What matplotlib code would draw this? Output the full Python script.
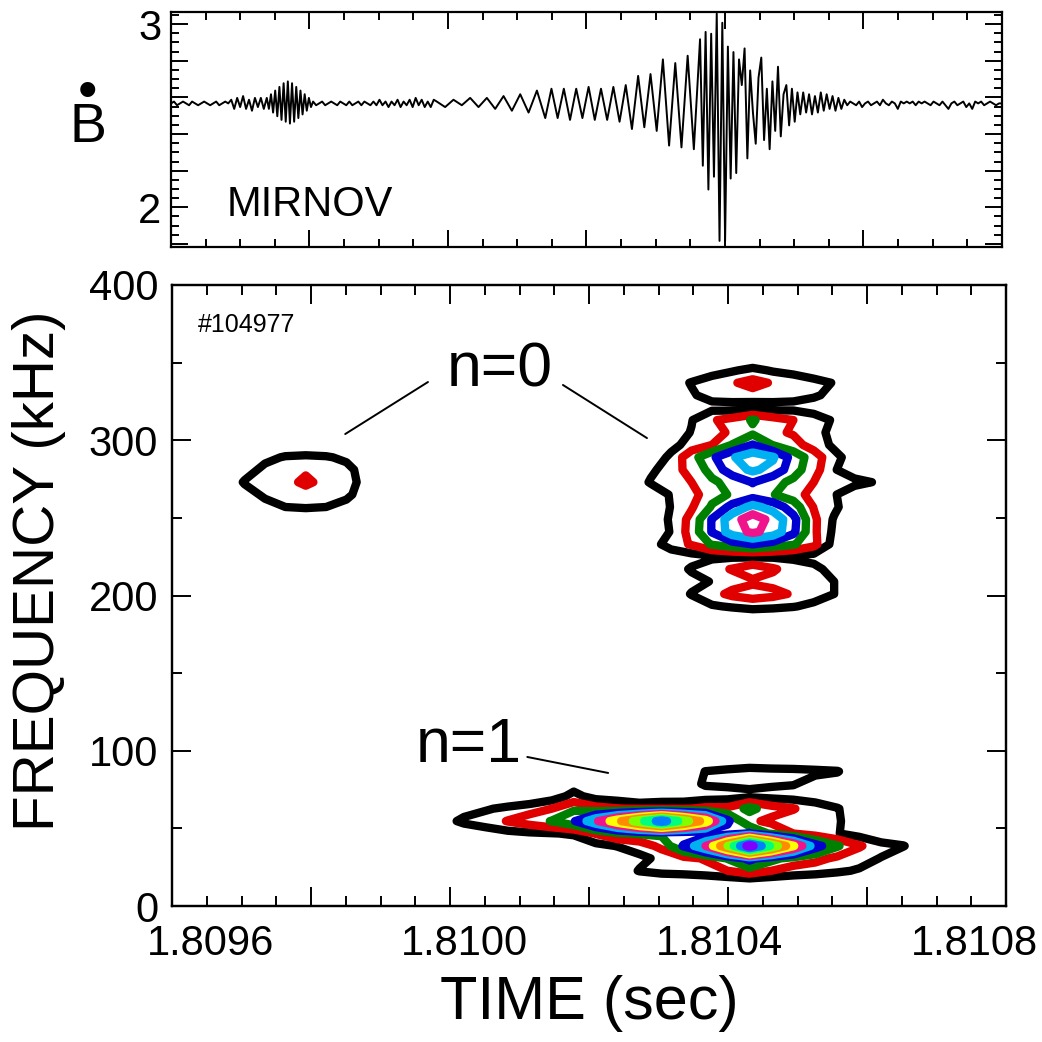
import numpy as np
import matplotlib
matplotlib.use("Agg")
import matplotlib.pyplot as plt
from matplotlib.ticker import MultipleLocator, FixedLocator, FuncFormatter, NullFormatter

# ---------------- Mirnov trace (top panel) ----------------
# baseline of the coil signal and per-segment samples (deviation, units of 0.01)
mirnov_base = 2.567
mirnov_edges = [1.80954, 1.809635, 1.809691, 1.809764, 1.809959, 1.81013,
                1.810374, 1.810532, 1.810606, 1.81085]
mirnov_vals = [
    [0, 1, -1, 0, 1, 0, -1, 1, 0, -1, 0, 1, 0, -1, 0, 1, -1, 0, 1, 0],
    [2, -3, 3, -2, 4, -3, 2, -4, 3, -2, 3, -3],
    [3, -3, 5, -5, 7, -7, 9, -9, 11, -10, 12, -11, 11, -10, 9, -8, 7, -6, 5, -4, 3, -2],
    [1, -1, 0, 1, -1, 0, 1, 0, -1, 1, 0, -1, 1, -1, 0, 1, -1, 1, 0, -1, 1,
     -1, 2, -1, 1, -2, 1, -1, 2, -2, 1, -1, 2, -2, 3, -1, 2, -2, 1, -2, 2],
    [1, -2, 2, -1, 3, -2, 3, -3, 4, -4, 5, -5, 7],
    [-8, 8, -8, 8, -9, 8, -8, 9, -9, 8, -9, 9, -10, 10,
     -14, 15, -13, 16, -15, 24, -23, 22, -24, 26, -25],
    [35, -34, 39, -47, 38, -40, 49, -75, 44, -75, 31, -41, 28, -38, 24, 10, 30, -30,
     18, -5, -22, 14, 25, -20, 8, -25, 12, -15, 20, -18, 5, 10, -12, 8, -10, 6],
    [-6, 6, -5, 5, -6, 4, -5, 6, -4, 5, -3, 4, -4, 3, -3, 2],
    [-1, 1, 0, -1, 1, -2, 0, 1, -1, 0, 1, -1, 2, 0, -1, 1, 0, -3, 1, 0, 1, 0, 1, -1, 1, 0,
     1, 0, -1, 1, 0, -1, 1, -1, -3, 0, 1, -1, 0, 1, -2, 0, -3, 1, 0, 1, -1, 0, 1, 0, -1, 0],
]

# ---------------- spectrogram power (bottom panel) ----------------
contour_levels = [1, 2, 3, 4, 5, 6, 7, 8, 9, 10, 11, 12]
level_colors = ['black', '#e00000', '#008000', '#0000d0', '#00b0f0', '#f0148c',
                '#ffff00', '#ff8c00', '#80ff00', '#00ff80', '#0080ff', '#8000ff']

# n=0 burst near 1.8098 s
n0a_t0, n0a_dt = 1.809622, 3.2e-5
n0a_freq = [249, 257, 265, 273, 281, 289, 297]
n0a_power = [
    [0, 0, 0, 0, 0, 0, 0, 0, 0],
    [0, 0, 0.6, 1.0, 1.1, 1.0, 0.7, 0, 0],
    [0, 0.5, 1.2, 1.5, 1.7, 1.5, 1.2, 0.5, 0],
    [0, 1.1, 1.5, 1.8, 2.12, 1.8, 1.3, 0.7, 0],
    [0, 0.5, 1.3, 1.6, 1.9, 1.6, 1.3, 0.5, 0],
    [0, 0, 0.7, 1.1, 1.2, 1.1, 0.8, 0, 0],
    [0, 0, 0, 0, 0, 0, 0, 0, 0],
]

# n=0 burst near 1.8104 s
n0b_t0, n0b_dt = 1.81026, 3.2e-5
n0b_freq = [177, 185, 193, 201, 209, 217, 225, 233, 241, 249, 257, 265,
            273, 281, 289, 297, 305, 313, 321, 329, 337, 345, 353]
n0b_power = [
    [0, 0, 0, 0, 0, 0, 0, 0, 0, 0, 0, 0, 0, 0],
    [0, 0, 0, 0, 0, 0, 0, 0, 0, 0, 0, 0, 0, 0],
    [0, 0, 0, 0.5, 0.9, 1.1, 1.3, 1.2, 1.05, 0.8, 0.3, 0, 0, 0],
    [0, 0, 0.4, 1.05, 1.7, 2.2, 2.45, 2.25, 1.9, 1.4, 1.0, 0.2, 0, 0],
    [0, 0, 0, 0.7, 1.05, 1.6, 1.85, 1.7, 1.5, 1.3, 1.0, 0.3, 0, 0],
    [0, 0, 0.5, 1.1, 1.7, 2.05, 2.6, 2.1, 1.6, 1.3, 0.6, 0, 0, 0],
    [0, 0, 0.3, 0.6, 0.8, 0.9, 0.9, 0.9, 0.8, 0.6, 0.3, 0, 0, 0],
    [0, 0.5, 1.5, 2.1, 3.1, 3.6, 4.02, 3.6, 3.1, 2.3, 0.6, 0, 0, 0],
    [0, 0, 1.1, 2.4, 4.05, 5.5, 6.2, 5.6, 4.2, 2.2, 0.8, 0, 0, 0],
    [0, 0, 1.2, 2.3, 4.05, 5.6, 6.5, 5.7, 4.3, 2.2, 0.9, 0, 0, 0],
    [0, 0.2, 1.05, 1.9, 3.1, 4.3, 5.3, 4.6, 3.5, 1.95, 1.2, 0.3, 0, 0],
    [0, 0.3, 1.1, 1.6, 2.7, 3.1, 3.5, 3.05, 2.5, 1.6, 1.1, 0.3, 0, 0],
    [0.2, 1.1, 1.4, 2.0, 2.85, 3.3, 4.05, 3.3, 2.8, 2.0, 1.5, 1.3, 0.95, 0],
    [0, 0.8, 1.5, 2.4, 3.3, 4.6, 5.15, 4.7, 3.4, 2.4, 1.1, 0.3, 0, 0],
    [0, 0.1, 1.3, 2.6, 3.8, 4.9, 5.6, 5.1, 3.6, 2.5, 1.3, 0.5, 0, 0],
    [0, 0, 0.6, 1.5, 2.0, 3.05, 4.05, 2.95, 2.35, 1.6, 0.8, 0, 0, 0],
    [0, 0, 0.5, 1.05, 1.8, 2.1, 2.8, 2.2, 1.9, 1.4, 0.7, 0, 0, 0],
    [0, 0, 0.5, 0.95, 1.9, 2.3, 3.1, 2.4, 2.0, 1.4, 0.9, 0, 0, 0],
    [0, 0, 0.2, 0.5, 0.7, 0.6, 0.5, 0.6, 0.7, 0.6, 0.5, 0, 0, 0],
    [0, 0, 0.4, 0.9, 1.3, 1.5, 1.6, 1.5, 1.3, 1.1, 0.8, 0, 0, 0],
    [0, 0, 0.6, 1.05, 1.5, 1.9, 2.3, 1.9, 1.6, 1.3, 0.95, 0, 0, 0],
    [0, 0, 0, 0.3, 0.6, 0.9, 1.25, 0.9, 0.7, 0.4, 0, 0, 0, 0],
    [0, 0, 0, 0, 0, 0, 0, 0, 0, 0, 0, 0, 0, 0],
]

# n=1 mode
n1_t0, n1_dt = 1.809964, 3.45e-5
n1_freq = [6.7, 14.7, 22.7, 30.7, 38.7, 46.7, 54.7, 62.7, 70.7, 78.7, 86.7, 94.7, 102.7]
n1_power = [
    [0] * 23,
    [0] * 23,
    [0, 0, 0, 0, 0, 0, 0, 0, 0.5, 1.05, 1.3, 1.4, 1.6, 2.0, 2.6, 2.0, 1.6, 1.4, 1.15, 0.9, 0.2, 0, 0],
    [0, 0, 0, 0, 0, 0, 0, 0, 0.3, 0.8, 1.2, 1.7, 2.1, 3.05, 4.3, 3.3, 2.6, 2.3, 1.8, 1.4, 0.95, 0.3, 0],
    [0, 0, 0, 0, 0, 0.2, 0.4, 0.7, 1.05, 1.4, 2.3, 4.1, 6.0, 9.0, 12.5, 9.8, 7.1, 4.4, 3.1, 2.1, 1.4, 1.05, 0.3],
    [0, 0.2, 0.5, 0.7, 0.85, 0.95, 1.1, 2.05, 2.8, 3.1, 3.2, 3.2, 3.3, 3.5, 4.1, 2.8, 2.0, 1.5, 1.05, 0.6, 0, 0, 0],
    [0.6, 1.2, 1.5, 2.05, 2.5, 3.05, 3.9, 5.8, 7.7, 9.6, 11.5, 9.5, 7.5, 4.2, 2.2, 1.8, 1.5, 1.4, 1.1, 0.5, 0, 0, 0],
    [0, 0.6, 0.9, 1.2, 1.6, 2.0, 2.81, 2.3, 2.05, 1.9, 1.85, 1.9, 2.2, 2.2, 3.3, 2.4, 2.05, 1.5, 1.05, 0.5, 0, 0, 0],
    [0, 0, 0, 0, 0, 0.5, 1.3, 0.6, 0.4, 0, 0.3, 0.3, 0.5, 0.6, 0.8, 0.7, 0.6, 0.5, 0.4, 0, 0, 0, 0],
    [0, 0, 0, 0, 0, 0, 0.5, 0.3, 0.2, 0.3, 0.4, 0.6, 1.1, 1.15, 1.15, 1.1, 1.05, 0.7, 0.5, 0.2, 0, 0, 0],
    [0, 0, 0, 0, 0, 0, 0, 0, 0, 0, 0, 0.5, 1.02, 1.2, 1.4, 1.3, 1.25, 1.15, 1.05, 0.4, 0, 0, 0],
    [0] * 23,
    [0] * 23,
]

time_ticks = [1.8096, 1.8100, 1.8104, 1.8108]
time_labels = ['1.8096', '1.8100', '1.8104', '1.8108']
xlim = (1.80954, 1.81085)


def draw_power(ax, t0, dt, freq, power):
    z = np.array(power)
    t = t0 + dt * np.arange(z.shape[1])
    ax.contour(t, freq, z, levels=contour_levels, colors=level_colors, linewidths=6)


def main():
    plt.rcParams['font.family'] = ['Liberation Sans', 'DejaVu Sans']

    fig = plt.figure(figsize=(10.42, 10.42), dpi=100)
    ax_m = fig.add_axes([0.1641, 0.7632, 0.7975, 0.2250])
    ax = fig.add_axes([0.1651, 0.1305, 0.8004, 0.5960])

    # top: Mirnov signal
    t_all, y_all = [], []
    for t0, t1, vals in zip(mirnov_edges[:-1], mirnov_edges[1:], mirnov_vals):
        tt = np.linspace(t0, t1, len(vals), endpoint=False)
        t_all.extend(tt)
        y_all.extend(mirnov_base + np.array(vals) / 100.0)
    t_all.append(mirnov_edges[-1])
    y_all.append(mirnov_base)
    ax_m.plot(t_all, y_all, color='black', lw=1.4)
    ax_m.set_xlim(*xlim)
    ax_m.set_ylim(1.785, 3.064)
    ax_m.yaxis.set_major_locator(MultipleLocator(0.2))
    ax_m.yaxis.set_minor_locator(MultipleLocator(0.05))
    ax_m.yaxis.set_major_formatter(FuncFormatter(
        lambda v, p: f"{v:.0f}" if abs(v - round(v)) < 1e-6 else ""))
    ax_m.xaxis.set_major_locator(FixedLocator(np.linspace(xlim[0], xlim[1], 7)))
    ax_m.xaxis.set_minor_locator(FixedLocator(np.linspace(xlim[0], xlim[1], 25)))
    ax_m.xaxis.set_major_formatter(NullFormatter())
    ax_m.tick_params(which='both', direction='in', top=True, right=True, width=1.4)
    ax_m.tick_params(which='major', length=12, labelsize=30, pad=7)
    ax_m.tick_params(which='minor', length=6)
    ax_m.text(0.067, 0.18, 'MIRNOV', transform=ax_m.transAxes, fontsize=30,
              ha='left', va='center')
    # B-dot label (dot stacked over the B in one text)
    fig.text(88 / 1042, 1 - 142 / 1042, '\u2022\nB', fontsize=40, ha='center',
             va='baseline', multialignment='center', linespacing=0.56)

    # bottom: contour spectrogram
    draw_power(ax, n0a_t0, n0a_dt, n0a_freq, n0a_power)
    draw_power(ax, n0b_t0, n0b_dt, n0b_freq, n0b_power)
    draw_power(ax, n1_t0, n1_dt, n1_freq, n1_power)
    ax.set_xlim(*xlim)
    ax.set_ylim(0, 400)
    ax.set_xticks(time_ticks)
    ax.set_xticklabels(time_labels, fontsize=30)
    ax.tick_params(axis='x', length=0, pad=13)
    ax.yaxis.set_major_locator(MultipleLocator(100))
    ax.yaxis.set_minor_locator(MultipleLocator(50))
    ax.tick_params(axis='y', which='both', direction='in', right=True, width=1.4)
    ax.tick_params(axis='y', which='major', length=14, labelsize=30, pad=10)
    ax.tick_params(axis='y', which='minor', length=7)

    axt = ax.twiny()
    axt.set_xlim(0, 24)
    axt.xaxis.set_major_locator(MultipleLocator(4))
    axt.xaxis.set_minor_locator(MultipleLocator(1))
    axt.tick_params(axis='x', which='both', direction='in', top=True, bottom=True,
                    labeltop=False, labelbottom=False, width=1.4)
    axt.tick_params(axis='x', which='major', length=14)
    axt.tick_params(axis='x', which='minor', length=7)

    for a in (ax, ax_m, axt):
        for s in a.spines.values():
            s.set_linewidth(1.6)

    ax.set_xlabel('TIME (sec)', fontsize=44, labelpad=8)
    ax.set_ylabel('FREQUENCY (kHz)', fontsize=42)
    ax.yaxis.set_label_coords(-0.127, 0.54)

    ax.text(0.031, 0.936, '#104977', transform=ax.transAxes, fontsize=18,
            ha='left', va='center')
    ax.text(1.810055, 345, 'n=0', fontsize=45, ha='center', va='center')
    ax.text(1.810006, 103.7, 'n=1', fontsize=45, ha='center', va='center')
    line = dict(arrowstyle='-', color='black', lw=1.4, shrinkA=0, shrinkB=0)
    ax.annotate('', xy=(1.809812, 304), xytext=(1.809942, 337.5), arrowprops=line)
    ax.annotate('', xy=(1.810286, 301.4), xytext=(1.810154, 335.6), arrowprops=line)
    ax.annotate('', xy=(1.810225, 85.7), xytext=(1.810098, 96), arrowprops=line)

    fig.savefig('out.png', dpi=100)


if __name__ == "__main__":
    main()
